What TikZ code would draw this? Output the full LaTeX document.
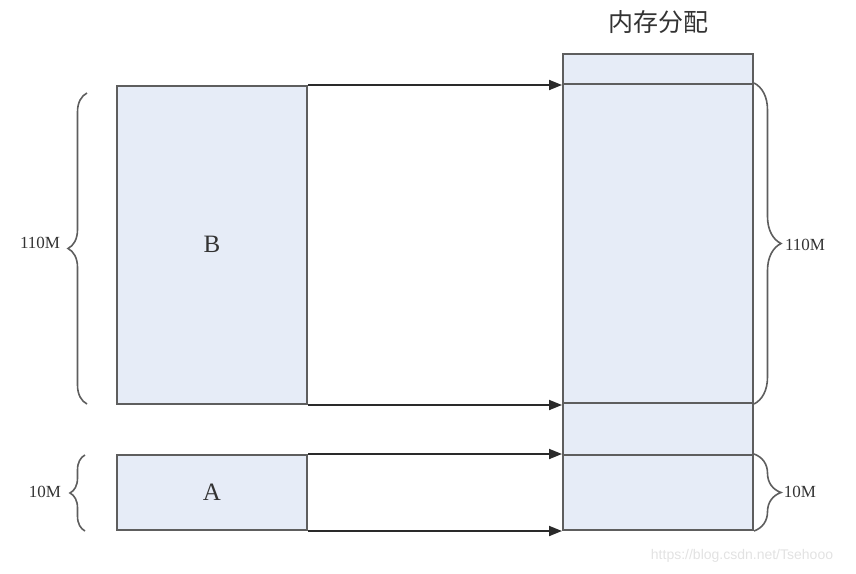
\documentclass[tikz,border=0pt]{standalone}
\usepackage{fontspec}
\setmainfont{Liberation Serif}
\newfontfamily\cjk{Noto Sans CJK SC}
\newfontfamily\wmfont{Liberation Sans}
\usetikzlibrary{arrows.meta,decorations.pathreplacing}
\definecolor{boxfill}{HTML}{E6ECF7}
\definecolor{boxline}{HTML}{5E5E5E}
\definecolor{arrline}{HTML}{2A2A2A}
\definecolor{wmgray}{HTML}{E2E2E2}
\tikzset{
  membox/.style={draw=boxline, fill=boxfill, line width=2pt, inner sep=0pt, minimum width=190pt},
  arr/.style={draw=arrline, line width=1.8pt, -{Triangle[length=13pt,width=10pt]}},
  bracepath/.style={draw=boxline, line width=1.6pt, decorate, decoration={brace, amplitude=#1}},
  sizelabel/.style={font=\fontsize{17}{19}\selectfont, text=black!80, inner sep=0pt},
  letterlabel/.style={font=\fontsize{25}{27}\selectfont, text=black!80, inner sep=0pt},
}
\begin{document}
\begin{tikzpicture}[x=1pt,y=-1pt]
\useasboundingbox (0,0) rectangle (856,573);
% left blocks
\node[membox, minimum height=318pt] (B) at (212,245) {};
\node[membox, minimum height=75pt] (A) at (212,492.5) {};
\node[letterlabel] (Blab) at (212,244) {B};
\node[letterlabel] (Alab) at (212,492) {A};
% memory column
\node[membox, minimum height=30pt] (mtop) at (658,69) {};
\node[membox, minimum height=319pt] (mB) at (658,243.5) {};
\node[membox, minimum height=52pt] (mgap) at (658,429) {};
\node[membox, minimum height=75pt] (mA) at (658,492.5) {};
\node[font=\cjk\fontsize{25}{27}\selectfont, text=black!80, inner sep=0pt] (title) at (658,22) {内存分配};
% arrows
\draw[arr] (B.north east) -- (B.north east -| mB.west);
\draw[arr] (B.south east) -- (B.south east -| mB.west);
\draw[arr] (A.north east) -- (A.north east -| mA.west);
\draw[arr] (A.south east) -- (A.south east -| mA.west);
% left braces
\coordinate (lb1) at (87,404);
\coordinate (lb2) at (87,93);
\draw[bracepath=19pt] (lb1) -- (lb2);
\coordinate (la1) at (85,531);
\coordinate (la2) at (85,455);
\draw[bracepath=15pt] (la1) -- (la2);
\node[sizelabel] (lbl) at (40,243) {110M};
\node[sizelabel] (lal) at (45,492) {10M};
% right braces
\draw[bracepath=27pt] (mB.north east) -- (mB.south east);
\draw[bracepath=27pt] (mA.north east) -- (mA.south east);
\node[sizelabel] (rbl) at (805,245) {110M};
\node[sizelabel] (ral) at (800,492) {10M};
% watermark
\node[font=\wmfont\fontsize{14}{16}\selectfont, text=wmgray, inner sep=0pt] (wm) at (742,556) {https://blog.csdn.net/Tsehooo};
\end{tikzpicture}
\end{document}
